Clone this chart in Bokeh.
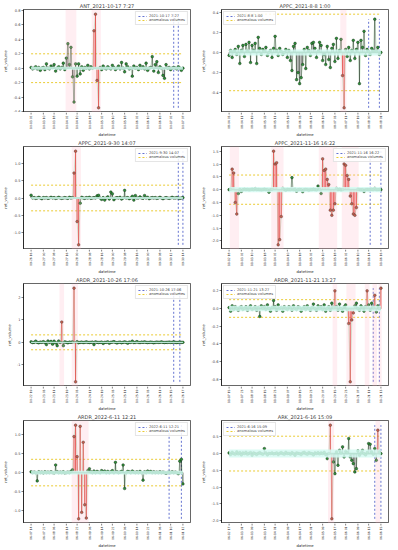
import math
from bokeh.plotting import figure
from bokeh.layouts import gridplot
from bokeh.models import (Range1d, BoxAnnotation, FixedTicker, Legend, LegendItem,
                          PrintfTickFormatter, LinearAxis)
from bokeh.core.properties import value
from bokeh.embed import file_html
from bokeh.resources import INLINE

# ---------------- data ----------------
titles = ["ANT_2021-10-17 7:27", "APPC_2021-8-8 1:00", "APPC_2021-9-30 14:07", "APPC_2021-11-16 16:22",
          "ARDR_2021-10-26 17:06", "ARDR_2021-11-21 13:27", "ARDR_2022-6-11 12:21", "ARK_2021-6-16 15:09"]
events = ["2021-10-17 7:27", "2021-8-8 1:00", "2021-9-30 14:07", "2021-11-16 16:22",
          "2021-10-26 17:06", "2021-11-21 13:27", "2022-6-11 12:21", "2021-6-16 15:09"]

ant_vals = [0.01, -0.01, 0.0, 0.02, -0.01, 0.01, -0.03, 0.0, 0.01, -0.02,
            0.06, 0.0, -0.01, 0.03, 0.01, 0.05, -0.04, 0.0, 0.02, -0.01,
            0.01, 0.07, -0.02, 0.14, 0.34, 0.05, 0.29, -0.12, -0.47, 0.06,
            -0.11, 0.06, -0.08, 0.02, -0.03, 0.01, 0.0, 0.04, -0.01, 0.02,
            0.0, 0.52, 0.75, -0.17, -0.55, 0.01, -0.02, 0.03, 0.0, -0.01,
            0.02, 0.0, -0.01, 0.04, 0.01, -0.02, 0.0, 0.03, -0.01, 0.08,
            0.0, -0.05, 0.06, 0.02, -0.01, 0.0, -0.11, 0.03, 0.0, 0.01,
            -0.02, 0.04, 0.0, 0.02, -0.01, 0.07, -0.03, 0.0, 0.01, 0.16,
            -0.04, 0.05, 0.09, -0.06, 0.02, 0.0, -0.1, -0.14, 0.05, 0.0,
            0.01, -0.02, 0.0, 0.01, 0.0, -0.01, 0.02, 0.0, -0.03, 0.0]
appc1_vals = [-0.03, 0.02, -0.05, 0.01, 0.03, -0.02, 0.06, -0.11, 0.02, 0.07,
              -0.04, 0.08, 0.01, 0.1, -0.1, 0.07, 0.02, 0.09, -0.11, 0.15,
              0.04, -0.02, 0.03, 0.01, 0.05, -0.03, 0.0, 0.02, -0.05, 0.04,
              0.16, 0.02, -0.03, 0.04, 0.01, -0.02, 0.0, 0.03, -0.05, 0.02,
              -0.08, -0.18, 0.06, 0.09, -0.27, -0.2, -0.31, -0.25, -0.12, 0.03,
              -0.16, 0.05, 0.02, -0.03, 0.09, 0.1, 0.04, -0.05, 0.01, 0.1,
              0.07, -0.08, -0.02, -0.12, 0.06, -0.07, -0.15, 0.04, 0.08, -0.09,
              0.14, -0.06, 0.02, 0.13, -0.23, -0.55, 0.03, -0.04, 0.05, -0.08,
              0.02, 0.12, -0.06, 0.03, 0.1, -0.31, 0.12, 0.05, 0.21, -0.03,
              0.03, 0.01, -0.02, 0.04, 0.02, 0.33, 0.01, 0.05, -0.02, 0.0]
appc2_vals = [0.08, 0.0, 0.01, -0.01, 0.0, 0.02, 0.0, -0.02, 0.01, 0.0,
              0.01, -0.01, 0.0, 0.02, 0.0, 0.01, -0.01, 0.0, 0.02, 0.0,
              -0.01, 0.0, 0.01, 0.0, -0.01, 0.02, 0.0, 0.01, 0.72, 1.35,
              -0.68, -1.35, -0.15, 0.02, 0.0, -0.01, 0.01, 0.0, 0.02, -0.01,
              0.0, 0.01, 0.0, 0.06, 0.08, 0.0, -0.04, 0.01, -0.06, 0.0,
              0.03, -0.03, 0.17, 0.12, -0.05, 0.0, 0.01, 0.0, 0.02, -0.03,
              0.0, 0.22, 0.0, 0.01, -0.02, 0.0, 0.05, -0.06, 0.07, 0.0,
              0.0, 0.03, 0.0, -0.01, 0.07, 0.0, 0.02, -0.02, 0.0, 0.01,
              0.0, 0.01, -0.01, 0.0, 0.02, 0.0, -0.02, 0.0, 0.01, 0.0,
              -0.01, 0.0, 0.02, 0.0, 0.0, 0.01, 0.0, -0.01, 0.0, 0.01]
appc3_vals = [0.0, 0.02, 0.8, 0.65, -0.5, -0.95, -0.15, 0.01, -0.07, 0.0,
              0.02, 0.0, 0.01, -0.01, 0.0, 0.02, 0.0, 0.04, 0.0, 0.01,
              0.0, -0.01, 0.0, 0.02, 0.0, 0.0, -0.1, 0.0, 0.01, 1.5,
              1.0, 1.05, -2.15, -1.95, -1.05, 0.05, 0.0, -0.02, 0.01, 0.0,
              0.0, 0.47, 0.0, 0.02, -0.06, 0.0, 0.01, 0.0, -0.08, 0.0,
              0.01, 0.0, -0.02, 0.0, 0.0, 0.02, 0.0, -0.01, 0.14, 0.02,
              -0.15, 1.2, 0.75, 0.8, 0.4, 0.2, -0.8, -1.0, -0.8, -0.55,
              0.05, 0.0, 0.02, -0.01, 0.0, 1.0, 0.95, 0.55, 0.4, -0.25,
              -0.55, -0.95, -1.0, -0.7, 0.02, 0.0, -0.01, 0.0, -0.07, 0.0,
              0.01, 0.0, 0.0, 0.02, 0.0, 0.05, 0.0, 0.0, 0.01, 0.0]
ardr1_vals = [0.02, -0.01, 0.0, 0.05, 0.0, -0.02, 0.01, 0.0, 0.03, -0.01,
              -0.1, 0.06, 0.0, 0.04, -0.08, 0.05, -0.03, -0.15, 0.06, 0.0,
              0.9, -0.15, 0.02, 0.0, -0.02, 0.01, 0.0, 0.02, 2.4, -1.75,
              0.03, -0.02, 0.0, 0.01, -0.01, 0.0, 0.02, 0.0, -0.01, 0.0,
              0.01, -0.1, 0.02, 0.0, -0.01, 0.0, 0.01, -0.05, 0.0, 0.0,
              0.02, -0.04, 0.0, 0.01, 0.03, 0.0, -0.03, 0.0, 0.01, -0.02,
              0.0, 0.02, 0.0, -0.04, 0.01, 0.0, 0.05, -0.01, 0.0, 0.03,
              0.0, -0.01, 0.01, 0.0, 0.02, 0.0, -0.01, 0.0, 0.01, 0.0,
              -0.02, 0.0, 0.01, 0.0, 0.0, 0.02, 0.0, -0.01, 0.0, 0.0,
              0.01, 0.0, 0.0, 0.02, 0.0, -0.01, 0.0, 0.01, 0.0, 0.0]
ardr2_vals = [0.01, -0.03, 0.03, -0.01, 0.02, 0.0, -0.02, 0.01, 0.02, -0.01,
              0.0, 0.02, -0.02, 0.01, 0.03, -0.01, 0.0, 0.02, -0.02, 0.01,
              -0.09, 0.03, 0.0, 0.02, -0.01, 0.04, 0.0, -0.03, 0.01, 0.09,
              0.02, -0.02, 0.04, 0.0, 0.01, -0.03, 0.02, 0.0, -0.01, 0.02,
              0.01, -0.02, 0.03, 0.0, -0.01, 0.02, 0.01, -0.03, 0.0, 0.02,
              -0.01, 0.03, 0.0, -0.02, 0.01, 0.05, 0.0, -0.02, 0.03, 0.0,
              0.02, -0.01, 0.04, -0.03, 0.0, 0.02, -0.02, 0.06, 0.01, 0.2,
              0.02, -0.02, 0.05, 0.0, -0.03, 0.02, 0.04, -0.01, -0.17, -0.83,
              -0.13, -0.05, 0.03, 0.06, 0.0, -0.02, 0.03, 0.01, -0.03, 0.02,
              0.2, 0.04, -0.02, 0.06, 0.01, 0.15, -0.04, 0.03, 0.0, 0.23]
ardr3_vals = [0.02, 0.0, 0.01, 0.0, -0.22, 0.02, 0.0, 0.01, -0.01, 0.02,
              0.0, 0.01, 0.0, 0.02, 0.0, -0.01, 0.2, 0.02, 0.0, 0.01,
              0.0, 0.02, -0.01, 0.0, 0.01, 0.0, 0.03, 0.07, 0.95, 1.25,
              0.42, -1.22, 1.22, -1.05, 0.8, -0.85, -1.2, 0.05, 0.1, 0.02,
              0.0, 0.04, 0.0, 0.03, 0.01, 0.0, 0.05, 0.02, 0.04, 0.0,
              0.03, 0.0, 0.02, 0.05, 0.0, 0.27, 0.02, 0.0, 0.01, 0.03,
              0.2, -0.42, 0.0, 0.03, 0.02, 0.0, 0.04, 0.01, 0.0, 0.02,
              0.0, 0.03, 0.0, -0.2, 0.02, 0.0, 0.04, 0.01, 0.03, 0.0,
              0.02, 0.0, 0.01, 0.0, 0.02, 0.0, 0.01, 0.0, -0.02, 0.0,
              0.01, 0.0, 0.02, 0.0, 0.01, 0.0, -0.03, 0.3, 0.35, -0.3]
ark_vals = [0.02, -0.03, 0.04, 0.0, -0.02, 0.05, -0.01, 0.03, -0.04, 0.02,
            0.0, 0.04, -0.02, 0.01, 0.03, -0.05, 0.02, 0.0, -0.03, 0.01,
            0.03, 0.0, -0.02, 0.15, 0.02, -0.04, 0.01, 0.0, 0.02, -0.01,
            0.0, 0.02, -0.03, 0.01, 0.03, 0.0, -0.02, 0.04, 0.0, 0.01,
            -0.02, 0.03, 0.0, -0.05, 0.02, 0.01, 0.0, -0.03, 0.02, 0.04,
            0.0, -0.02, 0.03, 0.01, 0.0, -0.04, 0.02, 0.0, 0.03, -0.01,
            0.02, 0.0, 0.04, -0.03, -0.15, 0.0, 0.85, -1.95, -0.25, -0.6,
            0.05, -0.35, 0.1, 0.02, 0.2, -0.1, 0.06, 0.03, 0.45, -0.1,
            -0.2, -0.3, -0.55, -0.45, 0.08, -0.05, 0.02, 0.1, 0.0, -0.04,
            0.03, 0.3, 0.28, 0.05, -0.02, 0.15, -0.2, 0.7, 0.05, 0.0]

series = [ant_vals, appc1_vals, appc2_vals, appc3_vals, ardr1_vals, ardr2_vals, ardr3_vals, ark_vals]

thresholds = [0.2, 0.38, 0.37, 0.57, 0.33, 0.1, 0.35, 0.52]
bands = [0.02, 0.03, 0.03, 0.1, 0.03, 0.03, 0.05, 0.12]

anomalous_idx = [[41, 42, 43, 44],
                 [74, 75],
                 [28, 29, 30, 31],
                 [2, 3, 4, 5, 29, 30, 31, 32, 33, 34, 61, 62, 63, 64, 65, 66, 67, 68, 69,
                  75, 76, 77, 78, 79, 80, 81, 82, 83],
                 [20, 28, 29],
                 [69, 78, 79, 80, 81, 90, 95, 99],
                 [28, 29, 30, 31, 32, 33, 34, 35, 36],
                 [66, 67, 97]]
anomaly_windows = [[(23, 29), (40, 45)],
                   [(73, 76)],
                   [(27, 32)],
                   [(1, 6), (28, 35), (59, 70), (74, 84)],
                   [(19, 21), (27, 30)],
                   [(68, 70), (77, 82), (89, 91), (94, 96), (98, 99)],
                   [(27, 37)],
                   [(65, 68), (96, 98)]]
event_idx = [[93, 96], [91, 98], [96, 99], [92, 99], [93, 97], [94, 98], [90, 98], [95, 99]]

yticks = [[-0.6, -0.4, -0.2, 0.0, 0.2, 0.4, 0.6, 0.8],
          [-0.4, -0.2, 0.0, 0.2, 0.4],
          [-1.0, -0.5, 0.0, 0.5, 1.0],
          [-2.0, -1.5, -1.0, -0.5, 0.0, 0.5, 1.0, 1.5],
          [-1, 0, 1, 2],
          [-0.8, -0.6, -0.4, -0.2, 0.0, 0.2],
          [-1.0, -0.5, 0.0, 0.5, 1.0],
          [-2.0, -1.5, -1.0, -0.5, 0.0, 0.5]]
ytick_fmt = ["%.1f", "%.1f", "%.1f", "%.1f", "%d", "%.1f", "%.1f", "%.1f"]

xtick_labels = [
    ["10-13 02", "10-13 10", "10-13 18", "10-14 02", "10-14 10", "10-14 18", "10-15 02",
     "10-15 10", "10-15 18", "10-16 02", "10-16 10", "10-16 18", "10-17 02", "10-17 07"],
    ["08-04 03", "08-04 11", "08-04 19", "08-05 03", "08-05 11", "08-05 19", "08-06 03",
     "08-06 11", "08-06 19", "08-07 03", "08-07 11", "08-07 19", "08-08 00", "08-08 01"],
    ["09-26 16", "09-27 00", "09-27 08", "09-27 16", "09-28 00", "09-28 08", "09-28 16",
     "09-29 00", "09-29 08", "09-29 16", "09-30 00", "09-30 08", "09-30 12", "09-30 14"],
    ["11-12 18", "11-13 02", "11-13 10", "11-13 18", "11-14 02", "11-14 10", "11-14 18",
     "11-15 02", "11-15 10", "11-15 18", "11-16 02", "11-16 10", "11-16 14", "11-16 16"],
    ["10-22 19", "10-23 03", "10-23 11", "10-23 19", "10-24 03", "10-24 11", "10-24 19",
     "10-25 03", "10-25 11", "10-25 19", "10-26 03", "10-26 11", "10-26 15", "10-26 17"],
    ["11-17 15", "11-17 23", "11-18 07", "11-18 15", "11-18 23", "11-19 07", "11-19 15",
     "11-19 23", "11-20 07", "11-20 15", "11-20 23", "11-21 07", "11-21 11", "11-21 13"],
    ["06-07 14", "06-07 22", "06-08 06", "06-08 14", "06-08 22", "06-09 06", "06-09 14",
     "06-09 22", "06-10 06", "06-10 14", "06-10 22", "06-11 06", "06-11 10", "06-11 12"],
    ["06-12 17", "06-13 01", "06-13 09", "06-13 17", "06-14 01", "06-14 09", "06-14 17",
     "06-15 01", "06-15 09", "06-15 17", "06-16 01", "06-16 09", "06-16 13", "06-16 15"],
]
legend_loc = ["top_right", "top_left", "top_right", "top_right",
              "top_right", "top_left", "top_right", "top_left"]

# ---------------- styles ----------------
FONT = "DejaVu Sans"
GREEN = "#2f8f3a"
LINEG = "#3aa845"
STEM = "#1c261c"
RED = "#e0312a"
RED_MK = "#b8452e"
PINK = "#ffb3c3"
CYAN = "#d3faf2"
YELLOW = "#e8c51c"
BLUE = "#3c4fc4"
W = 198
H_MAIN = 112
H_LAB = 25


def style_yaxis(ax, k, hidden=False):
    ax.ticker = FixedTicker(ticks=yticks[k])
    ax.formatter = PrintfTickFormatter(format=ytick_fmt[k])
    ax.axis_label = "ret_volume"
    ax.major_label_text_font = FONT
    ax.major_label_text_font_size = "3.6px"
    ax.axis_label_text_font = FONT
    ax.axis_label_text_font_size = "3.8px"
    ax.axis_label_text_font_style = "normal"
    ax.axis_label_standoff = 2
    ax.major_label_standoff = 1
    ax.major_tick_out = 2
    ax.major_tick_in = 0
    ax.minor_tick_out = 0
    ax.minor_tick_in = 0
    ax.axis_line_color = "black"
    ax.axis_line_width = 0.6
    ax.major_tick_line_width = 0.5
    if hidden:
        ax.axis_line_alpha = 0
        ax.major_tick_line_alpha = 0
        ax.minor_tick_line_alpha = 0
        ax.major_label_text_alpha = 0
        ax.axis_label_text_alpha = 0


def make_panel(k):
    vals = series[k]
    n = len(vals)
    idx = list(range(n))
    th = thresholds[k]
    band = bands[k]
    lo = min(min(vals), -th)
    hi = max(max(vals), th)
    pad = 0.05 * (hi - lo)
    xpad = 0.05 * (n - 1)
    xr = Range1d(-xpad, n - 1 + xpad)

    p = figure(width=W, height=H_MAIN, output_backend="svg", toolbar_location=None,
               x_range=xr, y_range=Range1d(lo - pad, hi + pad),
               min_border_left=2, min_border_right=8, min_border_top=2, min_border_bottom=0)
    p.title.text = titles[k]
    p.title.text_font = FONT
    p.title.text_font_size = "5px"
    p.title.text_font_style = "normal"
    p.title.align = "center"
    p.title.offset = 0
    p.title.standoff = 1
    p.grid.visible = False
    p.xaxis.visible = False
    p.outline_line_color = "black"
    p.outline_line_width = 0.6
    p.background_fill_color = "white"

    for (a, b) in anomaly_windows[k]:
        p.add_layout(BoxAnnotation(left=a - 0.5, right=b + 0.5, fill_color=PINK,
                                   fill_alpha=0.22, line_alpha=0))
    p.add_layout(BoxAnnotation(left=0, right=n - 1, bottom=-band, top=band,
                               fill_color=CYAN, fill_alpha=0.85, line_alpha=0))

    thr_r = p.line([0, n - 1], [th, th], line_color=YELLOW, line_dash="2 2", line_width=0.9)
    p.line([0, n - 1], [-th, -th], line_color=YELLOW, line_dash="2 2", line_width=0.9)

    ev_r = None
    for e in event_idx[k]:
        r = p.line([e, e], [min(vals), max(vals)], line_color=BLUE, line_dash="2 2",
                   line_width=0.8)
        if ev_r is None:
            ev_r = r

    red = set(anomalous_idx[k])
    nx = [i for i in idx if i not in red]
    ny = [vals[i] for i in nx]
    rx = [i for i in idx if i in red]
    ry = [vals[i] for i in rx]

    p.line(idx, vals, line_color=LINEG, line_width=0.5, line_alpha=0.5)
    p.segment(x0=nx, y0=[0] * len(nx), x1=nx, y1=ny, line_color=STEM, line_width=0.7)
    p.segment(x0=rx, y0=[0] * len(rx), x1=rx, y1=ry, line_color=RED, line_width=0.9)
    p.line([0, n - 1], [0, 0], line_color="#1f5a22", line_width=1.8)
    p.scatter(nx, ny, size=2.7, fill_color=GREEN, line_color="#102010", line_width=0.4)
    p.scatter(rx, ry, size=2.7, fill_color=RED_MK, line_color="#102010", line_width=0.4)

    style_yaxis(p.yaxis[0], k)

    leg = Legend(items=[LegendItem(label=events[k], renderers=[ev_r]),
                        LegendItem(label="anomalous volumes", renderers=[thr_r])],
                 location=legend_loc[k])
    leg.label_text_font = FONT
    leg.label_text_font_size = "3.6px"
    leg.label_height = 4
    leg.label_standoff = 2
    leg.glyph_height = 4
    leg.glyph_width = 9
    leg.spacing = 0
    leg.padding = 2
    leg.margin = 2
    leg.border_line_color = "#cccccc"
    leg.border_line_width = 0.5
    leg.background_fill_alpha = 0.85
    p.add_layout(leg)

    # x-axis strip: tick marks, rotated datetime labels, axis title
    q = figure(width=W, height=H_LAB, output_backend="svg", toolbar_location=None,
               x_range=xr, y_range=Range1d(0, H_LAB),
               min_border_left=2, min_border_right=8, min_border_top=0, min_border_bottom=0)
    q.grid.visible = False
    q.xaxis.visible = False
    q.yaxis.visible = False
    q.outline_line_color = None
    q.background_fill_color = "white"
    q.extra_y_ranges = {"main": Range1d(lo - pad, hi + pad)}
    ghost = LinearAxis(y_range_name="main")
    style_yaxis(ghost, k, hidden=True)
    q.add_layout(ghost, "left")

    labs = xtick_labels[k]
    m = len(labs)
    pos = [round(j * (n - 1) / (m - 1)) for j in range(m)]
    q.segment(x0=pos, y0=[H_LAB] * m, x1=pos, y1=[H_LAB - 2] * m,
              line_color="black", line_width=0.5)
    q.text(x=pos, y=[H_LAB - 3] * m, text=labs, angle=math.pi / 2,
           text_align="right", text_baseline="middle",
           text_font=value(FONT), text_font_size="3px", text_color="#222222")
    q.text(x=[(n - 1) / 2], y=[3.5], text=["datetime"], text_align="center",
           text_baseline="middle", text_font=value(FONT), text_font_size="3.8px",
           text_color="#222222")
    return p, q


pairs = [make_panel(k) for k in range(8)]
rows = []
for r in range(4):
    a, b = pairs[2 * r], pairs[2 * r + 1]
    rows.append([a[0], b[0]])
    rows.append([a[1], b[1]])
grid = gridplot(rows, toolbar_location=None)

open("out.html", "w").write(file_html(grid, INLINE))
